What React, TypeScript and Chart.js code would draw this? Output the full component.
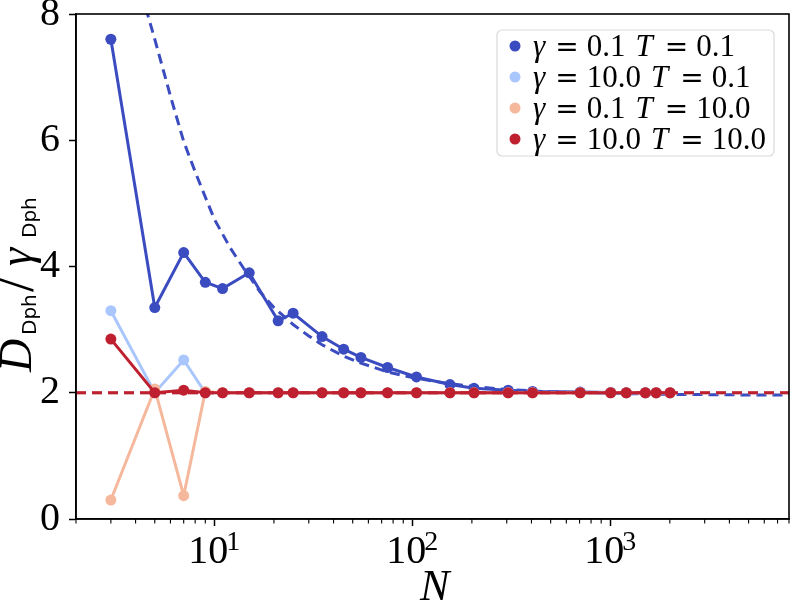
import React, { useEffect, useRef } from "react";
import { Chart, registerables } from "chart.js";

Chart.register(...registerables);

// ---- data ----
const N_SIM = [3, 5, 7, 9, 11, 15, 21, 25, 35, 45, 55, 75, 105, 155, 205, 305, 405, 705, 1005, 1205, 1505, 1705, 2005];
const Y_G01_T01 = [7.6, 3.35, 4.22, 3.75, 3.65, 3.9, 3.14, 3.26, 2.89, 2.69, 2.56, 2.4, 2.25, 2.13, 2.07, 2.04, 2.02, 2.01, 2.005, 2.0, 2.0, 2.0, 2.0];
const Y_G10_T01 = [3.3, 2.0, 2.52, 2.0, 2.0, 2.0, 2.0, 2.0, 2.0, 2.0, 2.0, 2.0, 2.0, 2.0, 2.0, 2.0, 2.0, 2.0, 2.0, 2.0, 2.0, 2.0, 2.0];
const Y_G01_T10 = [0.3, 2.06, 0.37, 2.02, 2.0, 2.0, 2.0, 2.0, 2.0, 2.0, 2.0, 2.0, 2.0, 2.0, 2.0, 2.0, 2.0, 2.0, 2.0, 2.0, 2.0, 2.0, 2.0];
const Y_G10_T10 = [2.85, 2.0, 2.04, 2.0, 2.0, 2.0, 2.0, 2.0, 2.0, 2.0, 2.0, 2.0, 2.0, 2.0, 2.0, 2.0, 2.0, 2.0, 2.0, 2.0, 2.0, 2.0, 2.0];

// theory (dashed) curves
const N_THEORY_LOW = [4.5, 5, 6, 7, 8, 9, 10, 12, 14, 17, 20, 25, 30, 35, 45, 55, 75, 100, 150, 200, 300, 500, 1000, 2000, 4000, 8000];
const Y_THEORY_LOW = [8.1, 7.6, 6.7, 5.98, 5.5, 5.1, 4.75, 4.3, 3.98, 3.6, 3.35, 3.08, 2.9, 2.76, 2.58, 2.47, 2.33, 2.24, 2.15, 2.1, 2.05, 2.015, 1.99, 1.975, 1.967, 1.963];
const N_THEORY_HIGH = [2, 8000];
const Y_THEORY_HIGH = [2, 2];

const GAMMAS = ["0.1", "10.0", "0.1", "10.0"];
const TEMPS = ["0.1", "0.1", "10.0", "10.0"];
const COLORS = ["#3b4cc0", "#aac7fd", "#f5b89c", "#bf2030"];

const Y_TICKS = [0, 2, 4, 6, 8];
const X_DECADES = [1, 10, 100, 1000];
const X_MULTS = [1, 2, 3, 4, 5, 6, 7, 8, 9];
const X_MIN = 2;
const X_MAX = 8000;

const SERIF = '"Liberation Serif", "Times New Roman", serif';
const SANS = '"DejaVu Sans", sans-serif';

const xTickValues: number[] = [];
X_DECADES.forEach((d) => X_MULTS.forEach((m) => {
  const v = d * m;
  if (v >= X_MIN && v <= X_MAX) xTickValues.push(v);
}));
const isPow10 = (v: number) => Math.abs(Math.log10(v) - Math.round(Math.log10(v))) < 1e-9;

const pts = (xs: number[], ys: number[]) => xs.map((x, i) => ({ x, y: ys[i] }));

const overlay = {
  id: "overlay",
  afterDatasetsDraw(chart: any) {
    const { ctx, chartArea } = chart;
    const { left, right, top, bottom } = chartArea;
    const xs = chart.scales.x;
    ctx.save();
    // frame
    ctx.strokeStyle = "#000";
    ctx.lineWidth = 1.6;
    ctx.strokeRect(left, top, right - left, bottom - top);
    // minor ticks
    ctx.lineWidth = 1.1;
    xTickValues.forEach((v) => {
      if (isPow10(v)) return;
      const px = xs.getPixelForValue(v);
      ctx.beginPath();
      ctx.moveTo(px, bottom);
      ctx.lineTo(px, bottom + 4.5);
      ctx.stroke();
    });
    // x tick labels 10^k
    ctx.fillStyle = "#000";
    ctx.textBaseline = "alphabetic";
    ctx.textAlign = "left";
    xTickValues.filter(isPow10).forEach((v) => {
      const e = Math.round(Math.log10(v));
      if (e < 1) return;
      const px = xs.getPixelForValue(v);
      ctx.font = `40px ${SERIF}`;
      const w1 = ctx.measureText("10").width;
      ctx.font = `28px ${SERIF}`;
      const w2 = ctx.measureText(String(e)).width;
      const start = px - (w1 + w2 - 2) / 2;
      ctx.font = `40px ${SERIF}`;
      ctx.fillText("10", start, 563);
      ctx.font = `28px ${SERIF}`;
      ctx.fillText(String(e), start + w1 - 2, 550);
    });
    // x axis title
    ctx.font = `italic 44px ${SERIF}`;
    ctx.fillText("N", 420, 600);
    // y axis title (rotated, reading bottom to top)
    const pieces = [
      { t: "D", font: `italic 46px ${SERIF}`, at: 0, dy: 0 },
      { t: "Dph", font: `20px ${SANS}`, at: 37, dy: 5 },
      { t: "/", font: `56px ${SERIF}`, at: 80, dy: 2 },
      { t: "\u03b3", font: `italic 46px ${SERIF}`, at: 106, dy: 0 },
      { t: "Dph", font: `20px ${SANS}`, at: 134, dy: 5 },
    ];
    ctx.translate(31, 372);
    ctx.rotate(-Math.PI / 2);
    pieces.forEach((p) => {
      ctx.font = p.font;
      ctx.fillText(p.t, p.at, p.dy);
    });
    ctx.restore();
  },
  afterDraw(chart: any) {
    const { ctx } = chart;
    ctx.save();
    ctx.beginPath();
    ctx.roundRect(497, 30, 277, 126, 5);
    ctx.fillStyle = "rgba(255,255,255,0.8)";
    ctx.fill();
    ctx.strokeStyle = "#d9d9d9";
    ctx.lineWidth = 1.2;
    ctx.stroke();
    ctx.textBaseline = "alphabetic";
    ctx.textAlign = "left";
    GAMMAS.forEach((g, i) => {
      const cy = 46 + i * 31;
      ctx.fillStyle = COLORS[i];
      ctx.beginPath();
      ctx.arc(515, cy, 5.5, 0, Math.PI * 2);
      ctx.fill();
      ctx.fillStyle = "#000";
      const by = cy + 10;
      let x = 533;
      const seg = (t: string, font: string, gap: number) => {
        ctx.font = font;
        ctx.fillText(t, x, by);
        x += ctx.measureText(t).width + gap;
      };
      seg("\u03b3", `italic 31px ${SERIF}`, 10);
      seg("=", `28px "DejaVu Serif", serif`, 8);
      seg(g, `31px ${SERIF}`, 10);
      seg("T", `italic 31px ${SERIF}`, 12);
      seg("=", `28px "DejaVu Serif", serif`, 8);
      seg(TEMPS[i], `31px ${SERIF}`, 0);
    });
    ctx.restore();
  },
};

export default function App() {
  const ref = useRef<HTMLCanvasElement | null>(null);
  useEffect(() => {
    if (!ref.current) return;
    const lw = 3;
    const solid = (i: number, ys: number[], order: number) => ({
      data: pts(N_SIM, ys),
      borderColor: COLORS[i],
      backgroundColor: COLORS[i],
      borderWidth: lw,
      pointRadius: 5.5,
      pointBorderWidth: 0,
      pointBackgroundColor: COLORS[i],
      tension: 0,
      fill: false,
      order,
    });
    const dashed = (i: number, xs: number[], ys: number[], order: number) => ({
      data: pts(xs, ys),
      borderColor: COLORS[i],
      backgroundColor: COLORS[i],
      borderWidth: lw,
      borderDash: [10, 6],
      pointRadius: 0,
      tension: 0,
      fill: false,
      order,
    });
    const chart = new Chart(ref.current, {
      type: "line",
      data: {
        datasets: [
          solid(3, Y_G10_T10, 0),
          dashed(3, N_THEORY_HIGH, Y_THEORY_HIGH, 1),
          solid(2, Y_G01_T10, 2),
          dashed(2, N_THEORY_HIGH, Y_THEORY_HIGH, 3),
          solid(1, Y_G10_T01, 4),
          dashed(1, N_THEORY_HIGH, Y_THEORY_HIGH, 5),
          dashed(0, N_THEORY_LOW, Y_THEORY_LOW, 6),
          solid(0, Y_G01_T01, 7),
        ] as any,
      },
      options: {
        responsive: false,
        animation: false,
        layout: { autoPadding: false, padding: { top: 14, right: 1, left: 0, bottom: 0 } },
        plugins: { legend: { display: false }, tooltip: { enabled: false } },
        scales: {
          x: {
            type: "logarithmic",
            min: X_MIN,
            max: X_MAX,
            afterBuildTicks: (s: any) => {
              s.ticks = xTickValues.map((v) => ({ value: v, major: isPow10(v) }));
            },
            ticks: { display: false, autoSkip: false },
            grid: {
              display: true,
              drawOnChartArea: false,
              drawTicks: true,
              tickLength: 7,
              tickWidth: 1.5,
              tickColor: (c: any) => (c.tick && isPow10(c.tick.value) ? "#000" : "rgba(0,0,0,0)"),
            },
            border: { display: true, color: "#000", width: 1.6 },
            afterFit: (s: any) => {
              s.height = 89;
              s.paddingLeft = 0;
              s.paddingRight = 0;
              s.paddingTop = 0;
              s.paddingBottom = 0;
            },
          },
          y: {
            type: "linear",
            min: 0,
            max: 8,
            afterBuildTicks: (s: any) => {
              s.ticks = Y_TICKS.map((v) => ({ value: v }));
            },
            ticks: {
              color: "#000",
              font: { family: SERIF, size: 40 },
              padding: 9,
              callback: (v: any) => String(v),
            },
            grid: {
              display: true,
              drawOnChartArea: false,
              drawTicks: true,
              tickLength: 7,
              tickWidth: 1.5,
              tickColor: "#000",
            },
            border: { display: true, color: "#000", width: 1.6 },
            afterFit: (s: any) => {
              s.width = 76;
              s.paddingLeft = 0;
              s.paddingRight = 0;
              s.paddingTop = 0;
              s.paddingBottom = 0;
            },
          },
        },
      },
      plugins: [overlay],
    });
    return () => chart.destroy();
  }, []);
  return (
    <div style={{ position: "absolute", left: 0, top: 0, width: 790, height: 608, background: "#fff" }}>
      <canvas ref={ref} width={790} height={608} style={{ display: "block" }} />
    </div>
  );
}
